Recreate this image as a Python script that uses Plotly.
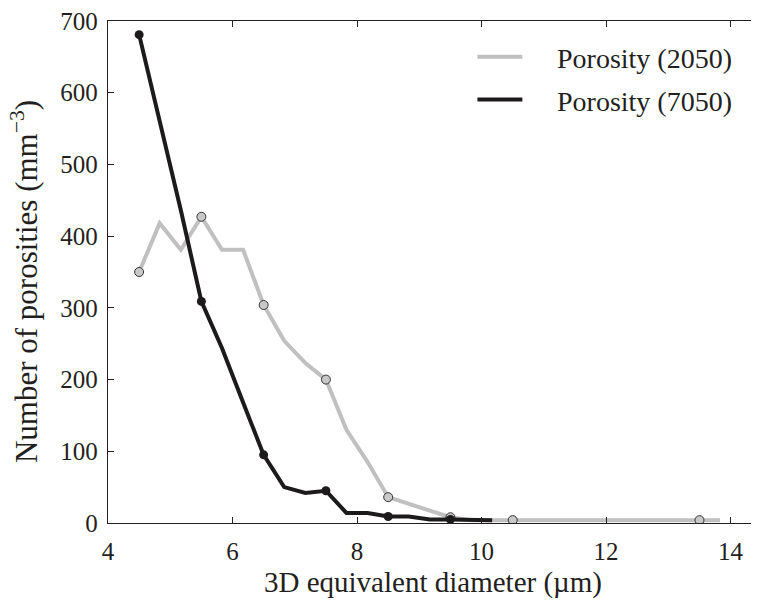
import plotly.graph_objects as go

# ---- data ----
x_2050 = [4.5, 4.83, 5.17, 5.5, 5.83, 6.17, 6.5, 6.83, 7.17, 7.5, 7.83, 8.17, 8.5, 8.83, 9.17, 9.5,
          9.83, 10.17, 10.5, 10.83, 11.17, 11.5, 11.83, 12.17, 12.5, 12.83, 13.17, 13.5, 13.83]
y_2050 = [350, 418, 381, 427, 381, 381, 304, 254, 223, 200, 130, 85, 36, 27, 18, 8,
          4, 4, 4, 4, 4, 4, 4, 4, 4, 4, 4, 4, 4]
markers_2050 = [4.5, 5.5, 6.5, 7.5, 8.5, 9.5, 10.5, 13.5]

x_7050 = [4.5, 4.83, 5.17, 5.5, 5.83, 6.17, 6.5, 6.83, 7.17, 7.5, 7.83, 8.17, 8.5, 8.83, 9.17, 9.5,
          9.83, 10.17]
y_7050 = [681, 562, 436, 309, 244, 168, 95, 50, 42, 45, 14, 14, 9, 9, 5, 5, 4, 4]
markers_7050 = [4.5, 5.5, 6.5, 7.5, 8.5, 9.5]

series_names = ["Porosity (2050)", "Porosity (7050)"]
x_ticks = [4, 6, 8, 10, 12, 14]
y_ticks = [0, 100, 200, 300, 400, 500, 600, 700]

# ---- style ----
OFF = 8                      # page body margin in the browser
W, H = 759 - OFF, 603 - OFF  # figure size
ML, MR, MT, MB = 108 - OFF, 0, 17 - OFF, 80
PW, PH = W - ML - MR, H - MT - MB
FONT = "Liberation Serif, Times New Roman, Times, DejaVu Serif, serif"
TXT = "#231f20"
GRAY = "#c0c0c0"
BLACK = "#1c1a1b"


def px(xp):
    """reference page pixel -> paper x"""
    return (xp - OFF - ML) / PW


def py(yp):
    """reference page pixel -> paper y"""
    return (H - MB - (yp - OFF)) / PH


def pick(xs, ys, sel):
    d = dict(zip(xs, ys))
    return sel, [d[v] for v in sel]


fig = go.Figure()
fig.add_trace(go.Scatter(x=x_2050, y=y_2050, mode="lines", line=dict(color=GRAY, width=4),
                         showlegend=False, name=series_names[0]))
mx, my = pick(x_2050, y_2050, markers_2050)
fig.add_trace(go.Scatter(x=mx, y=my, mode="markers",
                         marker=dict(size=9, color="#c8c8c8", line=dict(color="#333333", width=1)),
                         showlegend=False, name=series_names[0]))
fig.add_trace(go.Scatter(x=x_7050, y=y_7050, mode="lines", line=dict(color=BLACK, width=4),
                         showlegend=False, name=series_names[1]))
mx, my = pick(x_7050, y_7050, markers_7050)
fig.add_trace(go.Scatter(x=mx, y=my, mode="markers",
                         marker=dict(size=9, color=BLACK),
                         showlegend=False, name=series_names[1]))

axis_common = dict(showline=True, linecolor=TXT, linewidth=1.3, mirror="ticks",
                   ticks="inside", ticklen=6, tickwidth=1.3, tickcolor=TXT,
                   showgrid=False, zeroline=False, ticklabeloverflow="allow",
                   tickfont=dict(family=FONT, size=25, color=TXT))

fig.update_xaxes(range=[4, 14.44], tickvals=x_ticks, ticklabelstandoff=6, **axis_common)
fig.update_yaxes(range=[0, 700], tickvals=y_ticks, ticklabelstandoff=4, **axis_common)

annotations = [
    dict(text="3D equivalent diameter (µm)", xref="paper", yref="paper",
         x=px(434), y=py(583), xanchor="center", yanchor="middle", showarrow=False,
         font=dict(family=FONT, size=29, color=TXT)),
    dict(text="Number of porosities (mm<sup>−3</sup>)", xref="paper", yref="paper",
         x=px(25), y=py(280), xanchor="center", yanchor="middle", showarrow=False, textangle=-90,
         font=dict(family=FONT, size=31, color=TXT)),
]
shapes = []
for i, (name, col) in enumerate(zip(series_names, [GRAY, BLACK])):
    yl = 53 + 43 * i
    shapes.append(dict(type="line", xref="paper", yref="paper", x0=px(478), x1=px(523),
                       y0=py(yl), y1=py(yl), line=dict(color=col, width=4)))
    annotations.append(dict(text=name, xref="paper", yref="paper", x=px(556), y=py(yl + 2),
                            xanchor="left", yanchor="middle", showarrow=False,
                            font=dict(family=FONT, size=28, color=TXT)))

fig.update_layout(width=W, height=H, margin=dict(l=ML, r=MR, t=MT, b=MB),
                  paper_bgcolor="white", plot_bgcolor="white",
                  font=dict(family=FONT, color=TXT),
                  annotations=annotations, shapes=shapes, showlegend=False)

fig.write_html("out.html")
